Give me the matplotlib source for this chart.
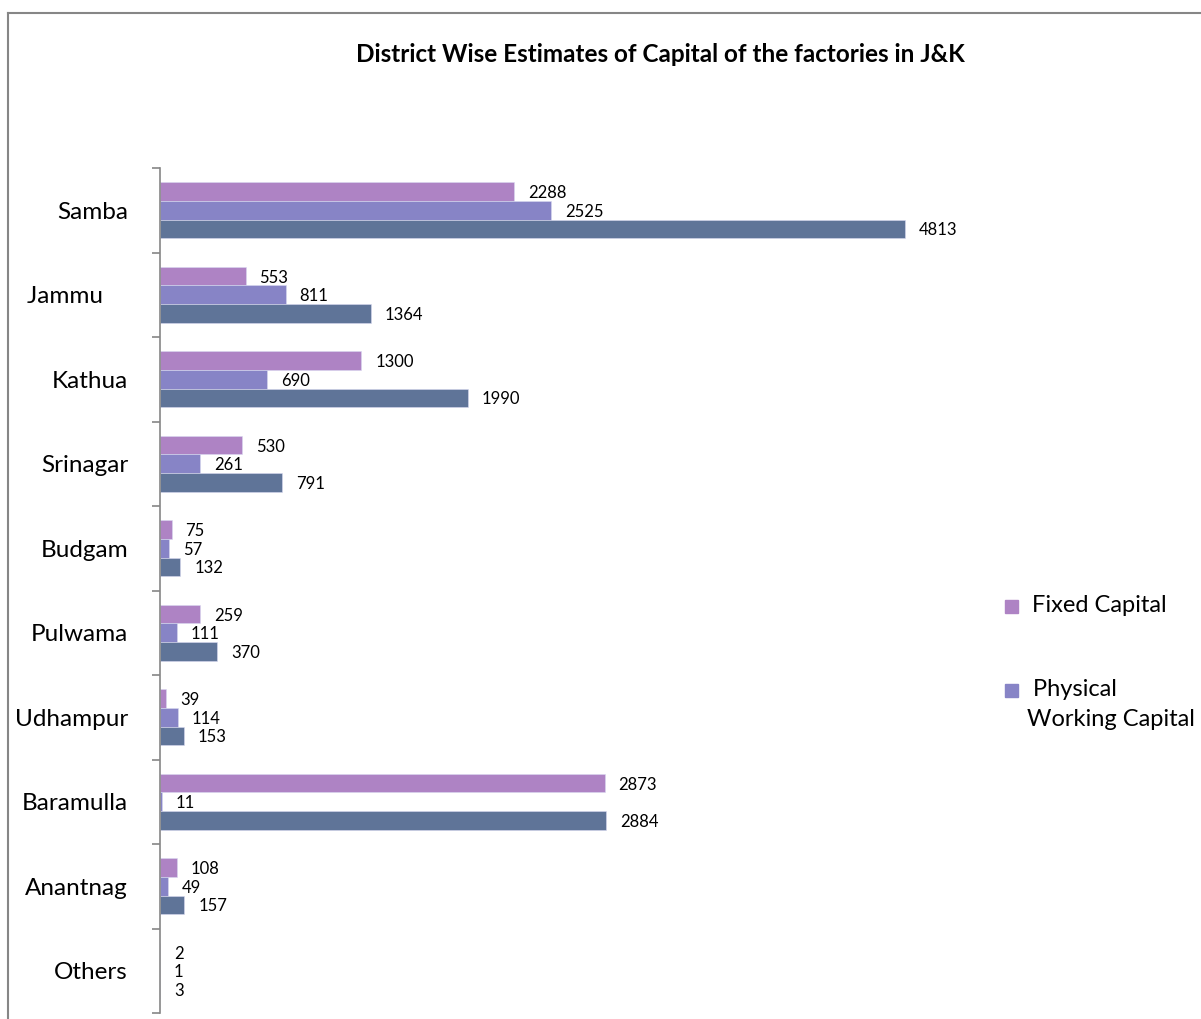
import matplotlib
matplotlib.use("Agg")
import matplotlib.pyplot as plt
from matplotlib.lines import Line2D
from matplotlib.patches import Rectangle
import numpy as np

districts = ["Samba", "Jammu    ", "Kathua", "Srinagar", "Budgam", "Pulwama",
             "Udhampur", "Baramulla", "Anantnag", "Others"]
fixed_capital = [2288, 553, 1300, 530, 75, 259, 39, 2873, 108, 2]
physical_working = [2525, 811, 690, 261, 57, 111, 114, 11, 49, 1]
total_capital = [4813, 1364, 1990, 791, 132, 370, 153, 2884, 157, 3]
series_names = ["Fixed Capital", " Physical\nWorking Capital", "Total Capital"]
colors = ["#AE83C4", "#8784C6", "#5F7498"]

plt.rcParams["font.family"] = ["Lato", "DejaVu Sans"]

W, H = 1201, 1019
fig = plt.figure(figsize=(W / 100, H / 100), dpi=100)


def fx(px):
    return px / W


def fy(py):
    return 1 - py / H


# outer chart-area frame (right and bottom are cut off in the original)
frame_col = "#868686"
fig.add_artist(Line2D([fx(8), 1], [fy(13), fy(13)], color=frame_col, lw=1.5))
fig.add_artist(Line2D([fx(8), fx(8)], [fy(13), 0], color=frame_col, lw=1.5))

ax = fig.add_axes([fx(160), fy(1013), fx(980) - fx(160), fy(168) - fy(1013)])

y = np.arange(len(districts))
h = 0.219
for i, (vals, col) in enumerate(zip([fixed_capital, physical_working, total_capital], colors)):
    pos = y + (i - 1) * h
    ax.barh(pos, vals, height=h, color=col, edgecolor="#D9D9F0", linewidth=0.4)
    for p, v in zip(pos, vals):
        ax.annotate(str(v), (v, p), xytext=(10, -1.2), textcoords="offset points",
                    va="center", ha="left", fontsize=12, color="black")

ax.set_xlim(0, 5297)
ax.set_ylim(len(districts) - 0.5, -0.5)

for s in ["top", "right", "bottom"]:
    ax.spines[s].set_visible(False)
ax.spines["left"].set_color(frame_col)
ax.spines["left"].set_linewidth(1.2)
ax.set_xticks([])

ax.set_yticks(y)
ax.set_yticklabels(districts, fontsize=17.5)
ax.tick_params(axis="y", which="major", length=0, pad=23)
ax.set_yticks(np.arange(len(districts) + 1) - 0.5, minor=True)
ax.tick_params(axis="y", which="minor", length=6, width=1.2, color=frame_col)

fig.text(fx(660), fy(54), "District Wise Estimates of Capital of the factories in J&K",
         ha="center", va="center", fontsize=17.5, fontweight="bold")

# legend (only the first two entries fit inside the chart area)
leg_y = [606, 690]
leg_x = [1032, 1027]
for name, col, ly, lx in zip(series_names[:2], colors[:2], leg_y, leg_x):
    fig.add_artist(Rectangle((fx(1005), fy(ly + 6.5)), fx(13), fy(ly - 6.5) - fy(ly + 6.5),
                             color=col))
    fig.text(fx(lx), fy(ly - 11), name, ha="left", va="top", fontsize=17,
             linespacing=1.55)

fig.savefig("out.png", dpi=100)
